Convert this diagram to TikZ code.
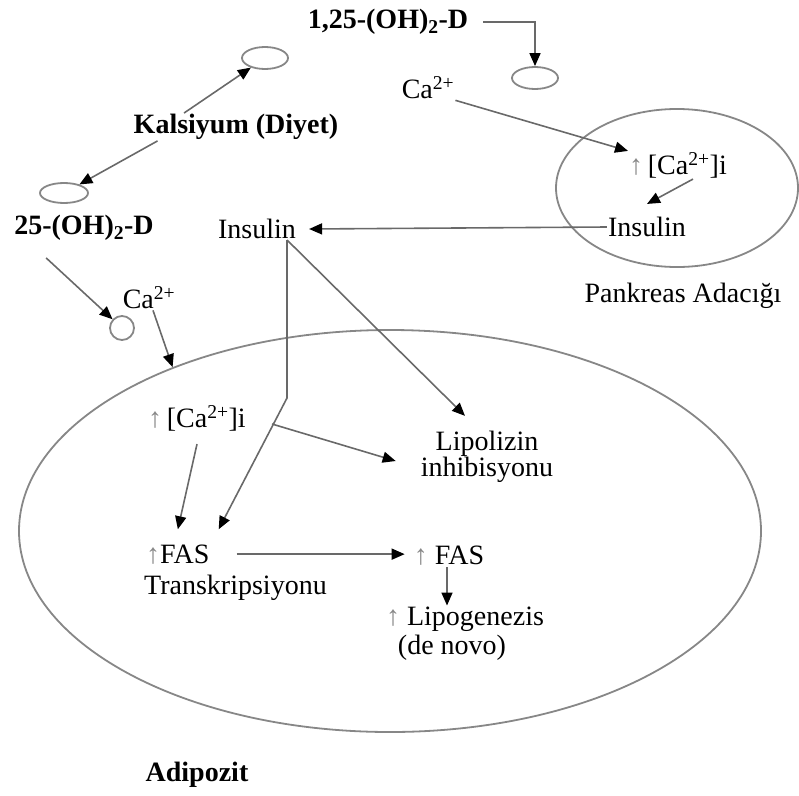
\documentclass[tikz,border=0pt]{standalone}
\usepackage{fontspec}
\setmainfont{Liberation Serif}
\usepackage{tikz}
\usetikzlibrary{arrows.meta,shapes.geometric,calc}
\definecolor{linegray}{RGB}{105,105,105}
\definecolor{ovalgray}{RGB}{135,135,135}
\newcommand{\upar}{{\color{ovalgray}↑}}

\begin{document}
\begin{tikzpicture}[x=1pt,y=-1pt,
  lbl/.style={inner sep=1pt, font=\fontsize{28}{32}\selectfont},
  blbl/.style={inner sep=1pt, font=\fontsize{28}{32}\selectfont\bfseries},
  oval/.style={draw=ovalgray, line width=1.8pt, ellipse, inner sep=0pt},
  arr/.style={draw=linegray, line width=1.6pt,
              -{Triangle[length=13pt,width=11pt,color=black]}}
]
  \useasboundingbox (0,0) rectangle (799,795);

  % Hücre zarları ve küçük kanallar
  \node[oval, minimum width=742pt, minimum height=402pt] (adip) at (390,531) {};
  \node[oval, minimum width=242pt, minimum height=158pt] (pank) at (677,188) {};
  \node[oval, minimum width=46pt, minimum height=22pt] (ovtop) at (265,58) {};
  \node[oval, minimum width=46pt, minimum height=22pt] (ovright) at (535,78) {};
  \node[oval, minimum width=48pt, minimum height=20pt] (ovleft) at (64,193) {};
  \node[oval, circle, minimum size=24pt] (circ) at (122,328) {};

  % Metinler
  \node[blbl] (d125) at (388,22) {1,25-(OH)\textsubscript{2}-D};
  \node[blbl] (kals) at (236,127) {Kalsiyum (Diyet)};
  \node[blbl] (d25) at (84,228) {25-(OH)\textsubscript{2}-D};
  \node[lbl] (ins) at (257,229) {Insulin};
  \node[lbl] (ca1) at (428,88) {Ca\textsuperscript{2+}};
  \node[lbl] (cai1) at (678,165) {\upar\,[Ca\textsuperscript{2+}]i};
  \node[lbl] (ins2) at (647,227) {Insulin};
  \node[lbl] (pankl) at (683,296) {Pankreas Adacığı};
  \node[lbl] (ca2) at (149,298) {Ca\textsuperscript{2+}};
  \node[lbl] (cai2) at (197,418) {\upar\,[Ca\textsuperscript{2+}]i};
  \node[lbl, align=center, font=\fontsize{28}{24}\selectfont] (lipo) at (487,457)
    {Lipolizin\\inhibisyonu};
  \node[lbl, anchor=base west] (fas1) at (145,563) {\upar FAS};
  \node[lbl, anchor=base west] (trans) at (143,594) {Transkripsiyonu};
  \node[lbl] (fas2) at (449,556) {\upar\ FAS};
  \node[lbl] (lipog) at (465,619) {\upar\ Lipogenezis};
  \node[lbl] (denovo) at (452,648) {(de novo)};
  \node[blbl] (adipl) at (197,775) {Adipozit};

  % D vitamini ve kalsiyum
  \draw[arr] ([xshift=14pt]d125.east) -| (ovright.north);
  \draw[arr] (kals.165) -- (ovtop);
  \draw[arr] ([xshift=25pt]kals.south west) -- (ovleft);
  \draw[arr] ([xshift=33pt,yshift=-16pt]d25.south west) -- (circ);
  \draw[arr] ([xshift=4pt]ca2.south) -- (adip.143);

  % Pankreas
  \draw[arr] (ca1.south east) -- (cai1.north west);
  \draw[arr] ([xshift=15pt]cai1.south) -- ([yshift=12pt]ins2.north);
  \draw[arr] (ins2.west) -- ([xshift=12pt]ins.east);

  % Insulin yolu
  \coordinate (bend) at (287,398);
  \draw[arr] (ins.south -| bend) -- (bend) -- ([xshift=8pt,yshift=14pt]fas1.north east);
  \draw[arr] ([xshift=-10pt]ins.south east) -- ([xshift=-22pt,yshift=14pt]lipo.north);

  % Adipozit içi
  \draw[arr] ([xshift=25pt,yshift=-6pt]cai2.east) -- ([xshift=-24pt,yshift=-4pt]lipo.west);
  \draw[arr] ([yshift=-12pt]cai2.south) -- ([yshift=14pt]fas1.north);
  \draw[arr] ([xshift=26pt]fas1.east) -- ([xshift=-8pt]fas1.east -| fas2.west);
  \draw[arr] ([xshift=-2pt]fas2.south) -- ([xshift=-2pt]fas2.south |- lipog.north);
\end{tikzpicture}
\end{document}
